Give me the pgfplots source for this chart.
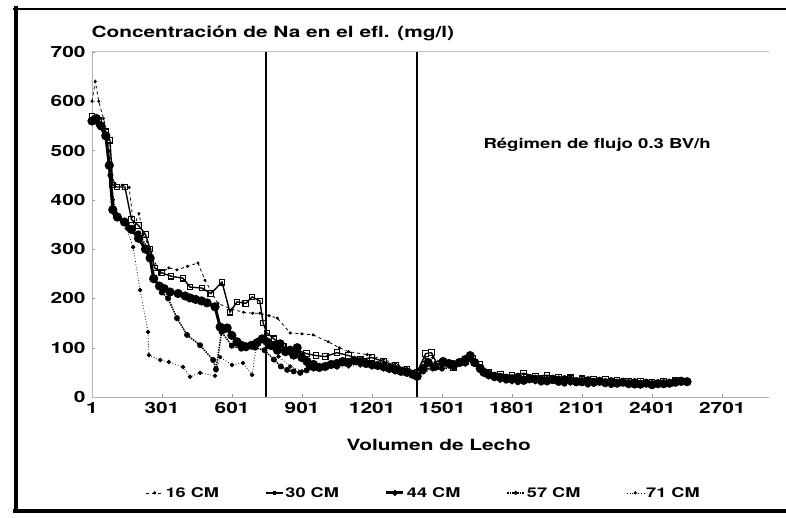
\documentclass[border=0pt]{standalone}
\usepackage{fontspec}
\setmainfont[FakeStretch=1.35]{TeX Gyre Heros}
\usepackage{pgfplots}
\pgfplotsset{compat=1.18}
\begin{document}
\begin{tikzpicture}[x=1bp,y=1bp]
\useasboundingbox (-92,-121) rectangle (694,397);
\draw[line width=4.5bp] (-76,391) -- (-76,-114);
\draw[line width=2.5bp] (-79,388) -- (694,388);
\draw[line width=4.5bp] (-79,-114) -- (694,-114);
\draw[black!25, line width=1bp] (0,345) -- (677,345);
\begin{axis}[
  at={(0,0)}, anchor=south west,
  scale only axis, width=677bp, height=345bp,
  xmin=1, xmax=2901, ymin=0, ymax=700,
  axis x line*=bottom, axis y line*=left,
  xtick={1,301,601,901,1201,1501,1801,2101,2401,2701},
  xticklabels={1,301,601,901,1201,1501,1801,2101,2401,2701},
  ytick={0,100,...,700},
  axis line style={black!30, -},
  tick style={black!40}, major tick length=3bp,
  ticklabel style={font=\fontsize{15.5}{18}\selectfont\bfseries},
  /pgf/number format/assume math mode=true,
  xticklabel style={yshift=-2bp},
  yticklabel style={xshift=-3bp},
  legend style={at={(0.49,-0.278)}, anchor=center, draw=none, fill=none,
    legend columns=5, font=\fontsize{13.5}{16}\selectfont\bfseries,
    /tikz/every even column/.append style={column sep=44bp}},
  legend image post style={mark size=1.2bp},
  clip=false,
]
\addplot[black, line width=0.8bp, dashed, mark=*, mark size=1.1bp, mark options={solid}] coordinates {
(1,600)(15,640)(30,600)(50,565)(70,530)(85,450)(100,432)(130,430)(160,425)(180,345)(202,372)(220,330)(250,300)(290,250)(330,262)(365,258)(410,265)(455,272)(485,237)(540,190)(600,178)(650,172)(690,170)(720,170)(760,165)(795,160)(850,130)(900,128)(948,126)(1013,112)(1060,100)(1100,92)(1180,86)(1250,76)(1300,68)(1350,58)(1394,54)(1430,78)(1460,80)(1500,70)(1550,64)(1620,82)(1660,62)(1700,48)(1750,44)(1800,43)(1850,46)(1900,42)(1950,40)(2000,41)(2050,38)(2100,38)(2150,36)(2200,35)(2250,34)(2300,33)(2350,32)(2400,31)(2450,30)(2500,33)(2540,32)};
\addlegendentry{16 CM}
\addplot[black, line width=1.4bp, mark=square, mark size=2.8bp, mark options={fill=white, line width=1.1bp}] coordinates {
(1,570)(30,562)(60,538)(78,521)(90,430)(108,426)(142,426)(170,360)(200,348)(230,330)(250,300)(270,262)(300,252)(340,245)(391,241)(421,223)(472,221)(510,210)(558,233)(592,172)(622,193)(660,190)(687,203)(720,195)(734,150)(750,130)(780,118)(820,102)(880,95)(920,88)(960,84)(1000,82)(1050,90)(1100,84)(1150,76)(1200,80)(1250,72)(1300,64)(1350,56)(1394,50)(1430,88)(1455,90)(1480,66)(1550,60)(1600,72)(1630,78)(1660,66)(1700,50)(1750,46)(1800,44)(1850,48)(1900,42)(1950,44)(2000,40)(2050,39)(2100,37)(2150,36)(2200,35)(2250,33)(2300,32)(2350,31)(2400,30)(2450,32)(2500,34)(2550,32)};
\addlegendentry{30 CM}
\addplot[black, line width=3bp, mark=*, mark size=3bp] coordinates {
(1,560)(20,565)(40,550)(60,530)(75,470)(90,380)(110,365)(140,355)(170,340)(200,322)(230,300)(250,282)(265,240)(290,225)(310,220)(335,213)(370,210)(400,205)(421,201)(445,198)(470,195)(494,191)(528,183)(550,142)(565,138)(580,140)(600,125)(622,112)(640,105)(660,102)(685,105)(708,110)(730,118)(751,112)(765,105)(780,104)(795,95)(807,108)(830,92)(850,95)(865,85)(880,100)(900,80)(922,72)(935,64)(950,66)(975,60)(1000,62)(1025,66)(1050,68)(1075,72)(1100,70)(1125,74)(1150,72)(1175,68)(1200,66)(1225,64)(1250,62)(1275,58)(1300,56)(1325,52)(1350,50)(1375,46)(1394,42)(1420,58)(1441,70)(1470,62)(1505,72)(1530,68)(1550,66)(1575,70)(1600,76)(1621,84)(1640,70)(1664,58)(1680,50)(1700,46)(1725,42)(1750,40)(1775,38)(1800,36)(1825,40)(1850,34)(1875,37)(1900,36)(1925,34)(1950,33)(1975,36)(2000,32)(2025,35)(2050,34)(2075,31)(2100,31)(2125,33)(2150,30)(2175,32)(2200,29)(2225,31)(2250,28)(2275,30)(2300,27)(2325,29)(2350,26)(2375,28)(2400,25)(2425,27)(2450,27)(2475,28)(2500,30)(2525,32)(2550,31)};
\addlegendentry{44 CM}
\addplot[black, line width=1.5bp, densely dotted, mark=*, mark size=2.2bp, mark options={solid}] coordinates {
(1,562)(30,552)(60,532)(80,450)(100,372)(150,352)(200,332)(240,302)(270,242)(300,212)(327,200)(365,160)(408,126)(464,105)(520,75)(532,56)(556,132)(600,104)(640,98)(700,100)(740,95)(780,76)(810,62)(837,55)(865,52)(893,49)(920,54)(950,58)(1000,62)(1050,62)(1100,66)(1150,68)(1200,62)(1250,58)(1300,52)(1350,48)(1394,40)(1420,52)(1460,60)(1500,58)(1550,60)(1600,68)(1630,75)(1664,55)(1700,42)(1725,38)(1750,36)(1775,33)(1800,34)(1825,30)(1850,31)(1875,34)(1900,33)(1925,29)(1950,30)(1975,32)(2000,29)(2025,27)(2050,30)(2075,28)(2100,28)(2125,25)(2150,27)(2175,29)(2200,27)(2225,24)(2250,26)(2275,28)(2300,25)(2325,23)(2350,24)(2375,26)(2400,23)(2425,25)(2450,25)(2475,26)(2500,28)(2525,29)(2550,30)};
\addlegendentry{57 CM}
\addplot[black, line width=0.8bp, dotted, mark=*, mark size=1.8bp, mark options={solid}] coordinates {
(1,558)(20,556)(50,540)(70,500)(90,400)(120,362)(150,342)(177,304)(207,217)(241,132)(245,85)(293,75)(330,71)(391,61)(421,41)(464,49)(528,43)(550,81)(601,65)(648,69)(687,45)(708,116)(740,118)(770,100)(800,82)(850,62)(900,52)(950,56)(1000,58)(1050,60)(1100,62)(1150,64)(1200,60)(1250,56)(1300,50)(1350,46)(1394,38)(1420,50)(1460,56)(1500,56)(1550,58)(1600,66)(1630,72)(1664,52)(1700,40)(1750,33)(1800,30)(1850,32)(1900,30)(1950,28)(2000,30)(2050,27)(2100,28)(2150,26)(2200,25)(2250,27)(2300,24)(2350,25)(2400,23)(2450,24)(2500,27)(2550,29)};
\addlegendentry{71 CM}
\addplot[black, line width=2bp, forget plot] coordinates {(747,0)(747,700)};
\addplot[black, line width=2bp, forget plot] coordinates {(1394,0)(1394,700)};
\end{axis}
\node[anchor=west, font=\fontsize{15.5}{18}\selectfont\bfseries] at (-4,364) {Concentración de Na en el efl. (mg/l)};
\node[anchor=west, font=\fontsize{15.5}{18}\selectfont\bfseries] at (251,-48) {Volumen de Lecho};
\node[anchor=west, font=\fontsize{13.8}{16}\selectfont\bfseries] at (388,252) {Régimen de flujo 0.3 BV/h};
\end{tikzpicture}
\end{document}
